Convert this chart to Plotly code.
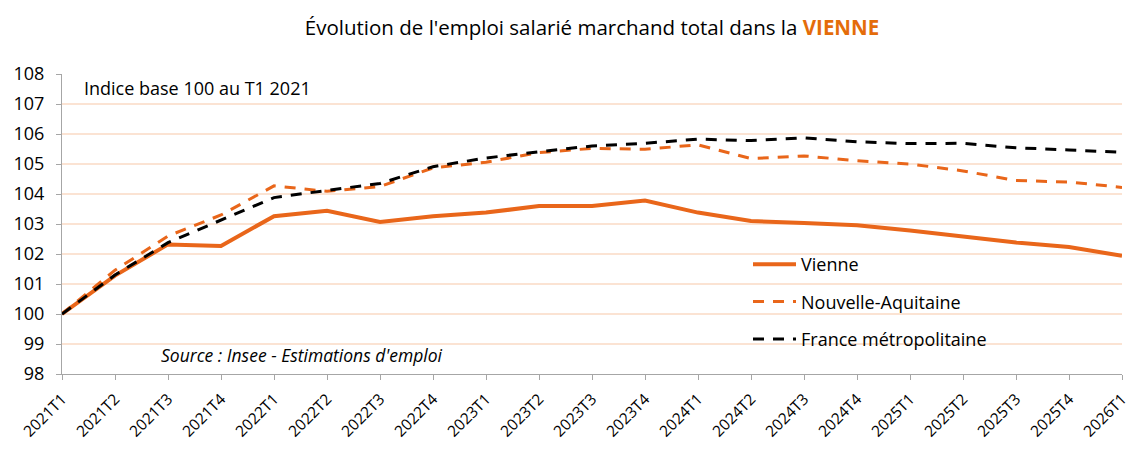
import plotly.graph_objects as go

quarters = ["2021T1", "2021T2", "2021T3", "2021T4",
            "2022T1", "2022T2", "2022T3", "2022T4",
            "2023T1", "2023T2", "2023T3", "2023T4",
            "2024T1", "2024T2", "2024T3", "2024T4",
            "2025T1", "2025T2", "2025T3", "2025T4",
            "2026T1"]

vienne = [100.0, 101.28, 102.32, 102.27,
          103.26, 103.44, 103.07, 103.26,
          103.38, 103.6, 103.6, 103.78,
          103.38, 103.1, 103.03, 102.96,
          102.78, 102.59, 102.38, 102.23,
          101.94]

nouvelle_aquitaine = [100.0, 101.46, 102.6, 103.3,
                      104.27, 104.09, 104.25, 104.87,
                      105.06, 105.38, 105.52, 105.49,
                      105.64, 105.18, 105.27, 105.11,
                      105.0, 104.77, 104.45, 104.4,
                      104.22]

france = [100.0, 101.3, 102.38, 103.13,
          103.88, 104.12, 104.35, 104.91,
          105.2, 105.41, 105.6, 105.69,
          105.83, 105.78, 105.87, 105.74,
          105.68, 105.69, 105.54, 105.47,
          105.39]

y_ticks = [98, 99, 100, 101, 102, 103, 104, 105, 106, 107, 108]

ORANGE = "#E9661A"
FONT = "Open Sans"

fig = go.Figure()
fig.add_trace(go.Scatter(x=quarters, y=vienne, name="Vienne", mode="lines",
                         line=dict(color=ORANGE, width=4), legendgroup="a"))
fig.add_trace(go.Scatter(x=quarters, y=nouvelle_aquitaine, name="Nouvelle-Aquitaine", mode="lines",
                         line=dict(color=ORANGE, width=3, dash="11px,9px"), legendgroup="b"))
fig.add_trace(go.Scatter(x=quarters, y=france, name="France métropolitaine", mode="lines",
                         line=dict(color="black", width=3, dash="11px,9px"), legendgroup="c"))

# page body has an 8px margin: work in page pixels, convert to figure pixels
OFF = 8
W, H = 1145 - OFF, 450 - OFF
L, R, T, B = 62 - OFF, 1122 - OFF, 74 - OFF, 374 - OFF

def px_x(px):
    return (px - OFF - L) / (R - L)

def px_y(py):
    return (B - (py - OFF)) / (B - T)

fig.update_layout(
    width=W, height=H,
    margin=dict(l=L, r=W - R, t=T, b=H - B, autoexpand=False),
    paper_bgcolor="white", plot_bgcolor="white",
    font=dict(family=FONT, color="black"),
    title=dict(text="Évolution de l'emploi salarié marchand total dans la "
                    "<b><span style='color:#E46C0A'>VIENNE</span></b>",
               x=(592 - OFF) / W, xanchor="center", y=1 - (28 - OFF) / H, yanchor="middle",
               font=dict(size=20.5, family=FONT, color="black")),
    xaxis=dict(type="category", range=[0, len(quarters) - 1], automargin=False,
               showgrid=False, showline=True, linecolor="#A6A6A6", linewidth=1,
               ticks="outside", ticklen=5, tickcolor="#A6A6A6",
               ticklabelstandoff=4,
               tickangle=-45, tickfont=dict(size=15.5, family=FONT)),
    yaxis=dict(range=[98, 108], tickvals=y_ticks, automargin=False,
               showgrid=True, gridcolor="#FBE3D3", gridwidth=2,
               showline=True, linecolor="#A6A6A6", linewidth=1,
               ticks="outside", ticklen=5, tickcolor="#A6A6A6",
               ticklabelstandoff=8,
               tickfont=dict(size=18, family=FONT), zeroline=False),
    legend=dict(x=px_x(748), y=px_y(246), xanchor="left", yanchor="top",
                bgcolor="rgba(0,0,0,0)", font=dict(size=18, family=FONT),
                itemwidth=43, tracegroupgap=11),
    showlegend=True,
)

# white box behind source text (hides gridline like the Excel text box)
fig.add_shape(type="rect", xref="paper", yref="paper",
              x0=px_x(150), x1=px_x(505), y0=px_y(368), y1=px_y(340),
              fillcolor="white", line=dict(width=0), layer="between")

# outer chart frame
fig.add_shape(type="rect", xref="paper", yref="paper",
              x0=px_x(3.5), x1=px_x(1170), y0=px_y(480), y1=px_y(5),
              line=dict(color="#A0A0A0", width=1), fillcolor="rgba(0,0,0,0)")

fig.add_annotation(text="Indice base 100 au T1 2021", xref="paper", yref="paper",
                   x=px_x(82), y=px_y(88), xanchor="left", yanchor="middle",
                   showarrow=False, font=dict(size=18, family=FONT, color="black"))
fig.add_annotation(text="<i>Source : Insee - Estimations d'emploi</i>", xref="paper", yref="paper",
                   x=px_x(302), y=px_y(355), xanchor="center", yanchor="middle",
                   showarrow=False, font=dict(size=17.5, family=FONT, color="black"))

fig.write_html("out.html")
